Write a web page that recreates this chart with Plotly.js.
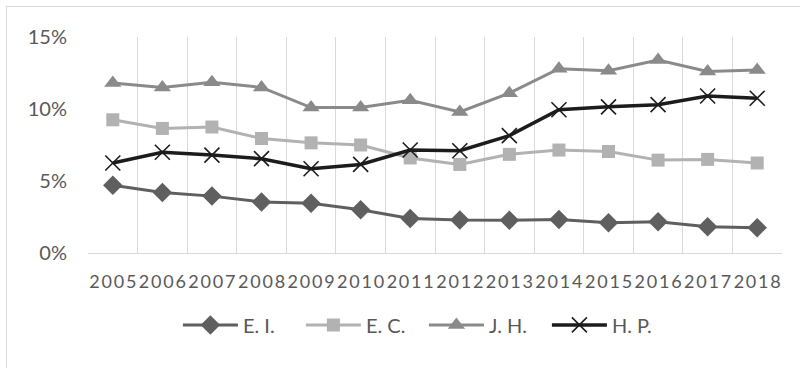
<!DOCTYPE html>
<html>
<head>
<meta charset="utf-8">
<script src="https://cdn.plot.ly/plotly-3.0.1.min.js"></script>
<style>
html,body{margin:0;padding:0;background:#fff;}
#chart{position:absolute;left:0;top:0;width:800px;height:368px;}
#frame{position:absolute;left:6px;top:6px;width:800px;height:400px;border:1px solid #d9d9d9;pointer-events:none;}
</style>
</head>
<body>
<div id="chart"></div>
<div id="frame"></div>
<script>
const years = ["2005","2006","2007","2008","2009","2010","2011","2012","2013","2014","2015","2016","2017","2018"];
const seriesNames = ["E. I.", "E. C.", "J. H.", "H. P."];
const EI = [4.7, 4.2, 3.95, 3.55, 3.45, 3.0, 2.4, 2.3, 2.28, 2.32, 2.1, 2.17, 1.83, 1.76];
const EC = [9.25, 8.65, 8.75, 7.95, 7.65, 7.5, 6.6, 6.15, 6.85, 7.15, 7.05, 6.45, 6.5, 6.25];
const JH = [11.8, 11.5, 11.85, 11.5, 10.1, 10.1, 10.6, 9.8, 11.1, 12.8, 12.65, 13.4, 12.6, 12.7];
const HP = [6.25, 7.0, 6.8, 6.55, 5.85, 6.15, 7.15, 7.1, 8.15, 9.95, 10.15, 10.3, 10.9, 10.75];
const yTicks = [0, 5, 10, 15];
const yTickText = ["0%", "5%", "10%", "15%"];

const font = "Lato, 'Open Sans', sans-serif";

const traces = [
  {x: years, y: EI, name: seriesNames[0], type: "scatter", mode: "lines+markers",
   line: {color: "#5f5f5f", width: 3}, marker: {symbol: "diamond", size: 15, color: "#5f5f5f"}},
  {x: years, y: EC, name: seriesNames[1], type: "scatter", mode: "lines+markers",
   line: {color: "#b2b2b2", width: 3}, marker: {symbol: "square", size: 13, color: "#b2b2b2"}},
  {x: years, y: JH, name: seriesNames[2], type: "scatter", mode: "lines+markers",
   line: {color: "#8a8a8a", width: 3}, marker: {symbol: "triangle-up", size: 15, color: "#8a8a8a"}},
  {x: years, y: HP, name: seriesNames[3], type: "scatter", mode: "lines+markers",
   line: {color: "#1c1c1c", width: 3.5}, marker: {symbol: "x-thin", size: 15, color: "#1c1c1c", line: {color: "#1c1c1c", width: 1.6}}}
];

const layout = {
  width: 800, height: 368,
  margin: {l: 88, r: 18, t: 37, b: 115},
  paper_bgcolor: "#fff", plot_bgcolor: "#fff",
  font: {family: font, size: 18, color: "#595959"},
  showlegend: true,
  legend: {orientation: "h", x: 0.484, xanchor: "center", y: -0.333, yanchor: "middle",
           font: {family: font, size: 20, color: "#595959"}, itemwidth: 55, tracegroupgap: 0,
           entrywidth: 53},
  xaxis: {type: "category", tickmode: "array", tickvals: years, ticktext: years,
          tickangle: 0, tickson: "boundaries", showgrid: true, gridcolor: "#d9d9d9", gridwidth: 1,
          showline: true, linecolor: "#d9d9d9", linewidth: 1, ticks: "", zeroline: false,
          range: [-0.5, 13.5], ticklabelstandoff: 12, tickfont: {family: font, size: 18, color: "#595959"}},
  yaxis: {range: [0, 15], tickmode: "array", tickvals: yTicks, ticktext: yTickText,
          showgrid: false, zeroline: false, showline: false, ticks: "",
          ticklabelstandoff: 20, tickfont: {family: font, size: 20, color: "#595959"}}
};

Plotly.newPlot("chart", traces, layout, {displayModeBar: false, staticPlot: true}).then(gd => {
  // letter-spaced year labels, as in the reference
  gd.querySelectorAll(".xtick text").forEach(t => {
    t.style.letterSpacing = "1.8px";
    t.setAttribute("dx", "0.9");
  });
  // lengthen legend sample lines to match the reference style
  gd.querySelectorAll(".legend .legendlines path").forEach(p => p.setAttribute("d", "M5,0h55"));
  gd.querySelectorAll(".legend .legendpoints path").forEach(p => {
    const t = p.getAttribute("transform") || "";
    p.setAttribute("transform", t.replace(/translate\(\s*20\s*,/, "translate(32.5,"));
  });
});
</script>
</body>
</html>
